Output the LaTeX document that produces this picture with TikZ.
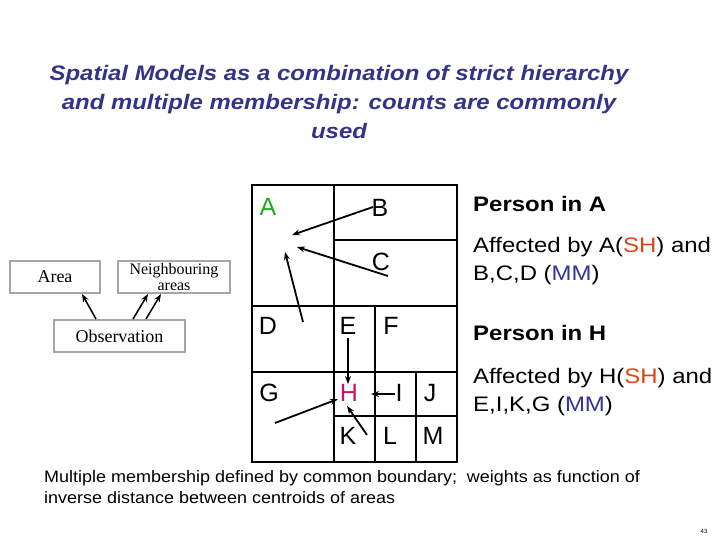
\documentclass[tikz,border=0pt]{standalone}
\usepackage{fontspec}
\setmainfont{Liberation Sans}
\newfontfamily\serifface{Liberation Serif}
\usetikzlibrary{arrows.meta}
\definecolor{titleblue}{HTML}{333388}
\definecolor{shred}{HTML}{DD4411}
\definecolor{mmblue}{HTML}{333399}
\definecolor{agreen}{HTML}{22AA22}
\definecolor{hmag}{HTML}{CC1166}
\tikzset{
  cell/.style={inner sep=0pt, font=\fontsize{25}{30}\selectfont},
  gridline/.style={line width=2pt},
  arr/.style={line width=1.8pt, -{Stealth[length=8pt,width=6pt]}},
  obsbox/.style={draw=gray!70, line width=1.2pt, fill=white, inner sep=0pt, align=center,
     font=\serifface\fontsize{18}{13.5}\selectfont},
  rtxt/.style={anchor=west, inner sep=0pt, align=left, xscale=1.14, transform shape, font=\fontsize{21}{28}\selectfont},
  rbold/.style={anchor=west, inner sep=0pt, xscale=1.14, transform shape, font=\bfseries\fontsize{21}{28}\selectfont},
}
\begin{document}
\begin{tikzpicture}[x=1pt,y=-1pt]
\useasboundingbox (0,0) rectangle (720,540);
% title
\node[align=center, text=titleblue, xscale=1.14, transform shape, font=\bfseries\itshape\fontsize{21}{29}\selectfont, inner sep=0pt] (title) at (339,102)
  {Spatial Models as a combination of strict hierarchy\\and multiple membership: counts are commonly\\used};
% grid
\draw[line width=2.5pt] (252,185) rectangle (457,462);
\draw[gridline] (334,185) -- (334,462);
\draw[gridline] (334,240) -- (457,240);
\draw[gridline] (252,306) -- (457,306);
\draw[gridline] (375,306) -- (375,462);
\draw[gridline] (252,372) -- (457,372);
\draw[gridline] (416,372) -- (416,462);
\draw[gridline] (334,416) -- (457,416);
% letters
\node[cell, text=agreen] (A) at (268,207) {A};
\node[cell] (B) at (380,208) {B};
\node[cell] (C) at (381,262) {C};
\node[cell] (D) at (268,326) {D};
\node[cell] (E) at (348,326) {E};
\node[cell] (F) at (391,326) {F};
\node[cell] (G) at (269,393) {G};
\node[cell, text=hmag] (H) at (349,393) {H};
\node[cell] (I) at (399,393) {I};
\node[cell] (J) at (430,393) {J};
\node[cell] (K) at (348,436) {K};
\node[cell] (L) at (390,436) {L};
\node[cell] (M) at (433,436) {M};
% arrow end points
\coordinate (bs) at (373,207);
\coordinate (be) at (292,235);
\coordinate (cs) at (388,276);
\coordinate (ce) at (297,247);
\coordinate (ds) at (303,322);
\coordinate (de) at (285,252);
\coordinate (es) at (348,338);
\coordinate (he) at (348,384);
\coordinate (is) at (395,394);
\coordinate (ie) at (371,394);
\coordinate (gs) at (275,423);
\coordinate (ge) at (338,399);
\coordinate (ks) at (367,435);
\coordinate (ke) at (347,406);
\draw[arr] (bs) -- (be);
\draw[arr] (cs) -- (ce);
\draw[arr] (ds) -- (de);
\draw[arr] (es) -- (he);
\draw[arr] (is) -- (ie);
\draw[arr] (gs) -- (ge);
\draw[arr] (ks) -- (ke);
% right text
\node[rbold] (pa) at (473,204) {Person in A};
\node[rtxt] (aa) at (473,261) {Affected by A(\textcolor{shred}{SH}) and\\B,C,D (\textcolor{mmblue}{MM})};
\node[rbold] (ph) at (473,333) {Person in H};
\node[rtxt] (ah) at (473,392) {Affected by H(\textcolor{shred}{SH}) and\\E,I,K,G (\textcolor{mmblue}{MM})};
% left diagram
\node[obsbox, minimum width=90pt, minimum height=32pt] (area) at (55,277) {Area};
\node[obsbox, minimum width=112pt, minimum height=32pt, font=\serifface\fontsize{16}{16.5}\selectfont] (nb) at (174,277) {Neighbouring\\areas};
\node[obsbox, minimum width=131pt, minimum height=32pt] (obs) at (119.5,336) {Observation};
\coordinate (o1) at (96,319);  \coordinate (a1) at (82,294);
\coordinate (o2) at (133,319); \coordinate (n1) at (148,294);
\coordinate (o3) at (146,319); \coordinate (n2) at (161,294);
\draw[arr, line width=1.5pt] (o1) -- (a1);
\draw[arr, line width=1.5pt] (o2) -- (n1);
\draw[arr, line width=1.5pt] (o3) -- (n2);
% bottom text
\node[anchor=west, align=left, inner sep=0pt, xscale=1.09, transform shape, font=\fontsize{16.5}{21}\selectfont] (foot) at (44,487)
  {Multiple membership defined by common boundary;\ \ weights as function of\\inverse distance between centroids of areas};
\node[font=\fontsize{6}{7}\selectfont, inner sep=0pt] (pg) at (704,531) {43};
\end{tikzpicture}
\end{document}
